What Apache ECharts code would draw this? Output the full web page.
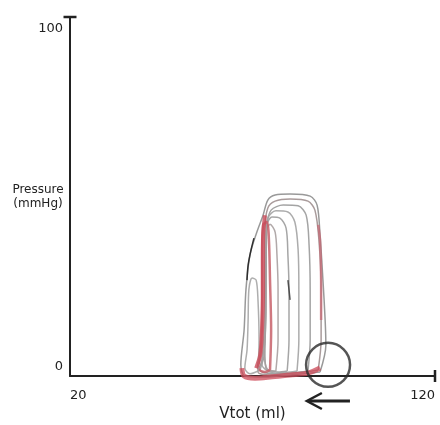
<!DOCTYPE html>
<html><head><meta charset="utf-8">
<script src="https://cdn.jsdelivr.net/npm/echarts@6/dist/echarts.min.js"></script>
<style>html,body{margin:0;padding:0;background:#fff}#c{width:440px;height:425px}</style>
</head><body><div id="c"></div>
<script>
// Axis ticks
const xTicks = [20, 120];
const yTicks = [0, 100];
// Pressure–volume loops: [volume (ml), pressure (mmHg)]
const loop1 = [[88.5,1.1],[90.1,8.6],[89.9,15.6],[89.3,26.7],[88.5,39.3],[87.7,47.6],[85.8,50.1],[80.3,50.7],[76.2,50.4],[74.2,49.0],[72.9,44.8],[71.2,40.1],[69.3,33.7],[68.2,24.0],[67.7,12.8],[66.8,3.1],[67.9,0.0],[73.4,-0.3],[80.3,0.3],[85.8,0.8],[88.5,1.1]];
const loop2 = [[88.0,1.7],[88.8,10.0],[88.8,24.0],[88.2,37.9],[87.1,46.2],[85.2,48.7],[80.3,49.3],[76.2,48.7],[74.2,46.8],[73.4,40.7],[73.4,26.7],[73.2,12.8],[72.6,4.5],[71.5,1.1],[74.8,0.3],[81.6,0.8],[88.0,1.7]];
const loop3 = [[85.2,1.4],[85.8,10.0],[85.8,24.0],[85.5,36.5],[84.7,44.8],[82.5,47.4],[78.4,47.6],[75.1,46.2],[74.0,42.1],[73.7,29.5],[73.4,15.6],[73.2,5.8],[72.1,1.7],[77.5,0.6],[83.0,1.1],[85.2,1.4]];
const loop4 = [[82.2,1.4],[82.7,10.0],[82.7,24.0],[82.5,35.1],[81.6,42.9],[79.7,45.7],[76.4,46.0],[74.2,44.0],[73.7,37.9],[73.7,24.0],[73.4,10.0],[72.6,3.1],[76.2,0.8],[80.3,1.1],[82.2,1.4]];
const loop5 = [[79.5,1.4],[80.0,10.0],[80.0,24.0],[79.7,33.7],[79.2,41.2],[77.5,44.0],[75.3,44.3],[74.0,42.1],[73.7,32.3],[73.7,18.4],[73.4,7.2],[73.7,2.2],[77.0,1.1],[79.5,1.4]];
const loop6 = [[76.4,1.4],[77.0,10.0],[77.0,24.0],[76.7,33.7],[76.2,40.1],[74.8,42.3],[73.7,40.1],[73.4,29.5],[73.4,15.6],[73.2,5.8],[74.2,1.7],[76.4,1.4]];
const loop7 = [[74.8,1.7],[75.1,12.8],[74.8,26.7],[74.5,37.9],[74.0,42.9],[72.9,42.1],[72.6,32.3],[72.6,18.4],[72.3,7.2],[71.5,2.2],[73.4,1.1],[74.8,1.7]];
const loop8 = [[71.5,1.4],[71.8,10.0],[71.5,21.2],[71.0,26.7],[69.9,27.3],[69.0,24.0],[68.8,15.6],[68.5,7.2],[67.9,2.2],[69.3,0.6],[71.5,1.4]];
// Heavier traced segments
const redTrace = [[73.4,44.8],[72.9,37.9],[72.9,24.0],[72.6,12.8],[72.1,5.8],[71.0,2.2]];
const redBottom = [[67.1,2.2],[67.7,0.0],[70.7,-0.6],[74.8,-0.3],[80.3,0.3],[85.2,0.8],[88.5,2.2]];
const redRight = [[88.8,15.6],[88.8,26.7],[88.5,37.9],[88.0,42.1]];
const blackLeft = [[70.4,38.4],[69.6,35.1],[68.8,30.9],[68.5,26.7]];
const blackMid = [[79.7,26.7],[80.0,24.0],[80.3,21.2]];
// Annotations
const circleMark = [[90.7,3.1]];
const arrowVol = [96.7, 84.9];

const FONT = 'DejaVu Sans';
const chart = echarts.init(document.getElementById('c'), null, {renderer:'canvas'});

function loopSeries(data, color, width, opacity){
  return {type:'line', data, showSymbol:false, smooth:0.3, clip:false, silent:true,
    lineStyle:{color, width, opacity}, z:2};
}

chart.setOption({
  animation:false,
  backgroundColor:'#fff',
  grid:{left:70, right:5, top:17, bottom:49, outerBoundsMode:'none'},
  xAxis:{type:'value', min:xTicks[0], max:xTicks[1], interval:xTicks[1]-xTicks[0],
    axisLine:{show:true, lineStyle:{color:'#222', width:2}, symbol:['none','rect'], symbolSize:[12,2.5]},
    axisTick:{show:false}, splitLine:{show:false},
    axisLabel:{margin:13, color:'#222', fontFamily:FONT, fontSize:13, alignMinLabel:'left', alignMaxLabel:'right'},
    name:'Vtot (ml)', nameLocation:'middle', nameGap:31, nameMoveOverlap:false,
    nameTextStyle:{color:'#222', fontFamily:FONT, fontSize:15}
  },
  yAxis:{type:'value', min:yTicks[0], max:yTicks[1], interval:yTicks[1]-yTicks[0],
    axisLine:{show:true, lineStyle:{color:'#222', width:2}, symbol:['none','rect'], symbolSize:[13,2.5]},
    axisTick:{show:false}, splitLine:{show:false},
    axisLabel:{margin:7, color:'#222', fontFamily:FONT, fontSize:13,
      formatter:function(v){return v===yTicks[1] ? '{t|'+v+'}' : '{b|'+v+'}';},
      rich:{t:{padding:[24,0,0,0], fontFamily:FONT, fontSize:13, color:'#222'},
            b:{padding:[0,0,18,0], fontFamily:FONT, fontSize:13, color:'#222'}}},
    name:'Pressure\n(mmHg)', nameLocation:'middle', nameGap:32, nameRotate:0, nameMoveOverlap:false,
    nameTextStyle:{color:'#222', fontFamily:FONT, fontSize:12, align:'center', verticalAlign:'middle', lineHeight:14, padding:[0,0,10,0]}
  },
  series:[
    loopSeries(loop1, '#8e8e8e', 1.5, 0.9),
    loopSeries(loop2, '#a09090', 1.5, 0.9),
    loopSeries(loop3, '#9a9a9a', 1.5, 0.9),
    loopSeries(loop4, '#a3a3a3', 1.5, 0.9),
    loopSeries(loop5, '#9c9c9c', 1.5, 0.9),
    loopSeries(loop6, '#a8a0a0', 1.5, 0.9),
    loopSeries(loop7, '#c8606a', 2.5, 0.85),
    loopSeries(loop8, '#a5a5a5', 1.5, 0.9),
    loopSeries(redTrace, '#c84a58', 4, 0.8),
    loopSeries(redBottom, '#cc4a58', 5, 0.75),
    loopSeries(redRight, '#c86470', 2.5, 0.7),
    loopSeries(blackLeft, '#222', 1.5, 0.9),
    loopSeries(blackMid, '#333', 1.5, 0.8),
    {type:'scatter', data:circleMark, symbol:'circle', symbolSize:44, clip:false, silent:true, z:5,
      itemStyle:{color:'rgba(0,0,0,0)', borderColor:'#2a2a2a', borderWidth:2.5}}
  ]
});

const ax0 = chart.convertToPixel({xAxisIndex:0}, arrowVol[0]);
const ax1 = chart.convertToPixel({xAxisIndex:0}, arrowVol[1]);
const ay = chart.convertToPixel({yAxisIndex:0}, yTicks[0]) + 25;
chart.setOption({graphic:[
  {type:'line', shape:{x1:ax0, y1:ay, x2:ax1+2, y2:ay}, style:{stroke:'#222', lineWidth:3}},
  {type:'polyline', shape:{points:[[ax1+15, ay-8],[ax1, ay],[ax1+15, ay+8]]}, style:{stroke:'#222', lineWidth:2.5, fill:null}}
]});
</script></body></html>
